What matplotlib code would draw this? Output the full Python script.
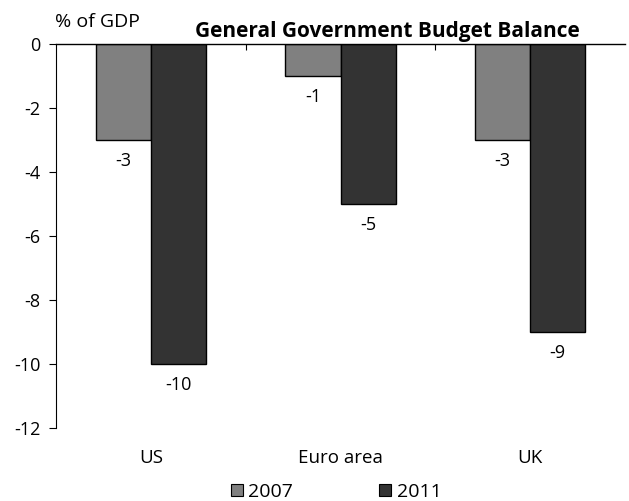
import matplotlib.pyplot as plt
import numpy as np
from matplotlib.patches import Patch

plt.rcParams["font.family"] = ["Open Sans", "DejaVu Sans"]

categories = ["US", "Euro area", "UK"]
years = ["2007", "2011"]
balance_2007 = [-3, -1, -3]
balance_2011 = [-10, -5, -9]
y_ticks = [0, -2, -4, -6, -8, -10, -12]

colors = ["#808080", "#333333"]

fig = plt.figure(figsize=(6.29, 5.01), dpi=100)
ax = fig.add_axes([56 / 629, 1 - 428 / 501, 569 / 629, 384 / 501])

x = np.arange(len(categories))
width = 0.29
for i, (vals, col) in enumerate(zip([balance_2007, balance_2011], colors)):
    pos = x + (i - 0.5) * width
    ax.bar(pos, vals, width, color=col, edgecolor="black", linewidth=1.0, zorder=2)
    for p, v in zip(pos, vals):
        ax.annotate(str(v), (p, v), xytext=(0, -9), textcoords="offset points",
                    ha="center", va="top", fontsize=13)

ax.set_xlim(-0.5, len(categories) - 0.5)
ax.set_ylim(-12, 0)
ax.set_yticks(y_ticks)
ax.set_yticklabels([str(t) for t in y_ticks], fontsize=13)
ax.tick_params(axis="y", direction="out", length=5, width=0.8, pad=6)

# category boundaries shown as small ticks on the zero line
ax.set_xticks([0.5, 1.5])
ax.set_xticklabels([])
ax.tick_params(axis="x", direction="in", length=4, width=0.8, top=True, bottom=False)
for xi, name in zip(x, categories):
    ax.text(xi, -12.93, name, ha="center", va="center", fontsize=13.5)

for s in ["right", "bottom"]:
    ax.spines[s].set_visible(False)
ax.spines["top"].set_linewidth(1.0)
ax.spines["left"].set_linewidth(0.8)

fig.text(55 / 629, 1 - 22 / 501, "% of GDP", ha="left", va="center", fontsize=14)
fig.text(387 / 629, 1 - 32 / 501, "General Government Budget Balance",
         ha="center", va="center", fontsize=15, fontweight="bold")

handles = [Patch(facecolor=c, edgecolor="black", linewidth=0.8) for c in colors]
fig.legend(handles, years, loc="center", bbox_to_anchor=(336 / 629, 1 - 492 / 501),
           ncol=2, frameon=False, fontsize=14, handlelength=0.62, handleheight=0.62,
           handletextpad=0.3, columnspacing=4.4, borderpad=0, borderaxespad=0)

fig.savefig("out.png", dpi=100)
